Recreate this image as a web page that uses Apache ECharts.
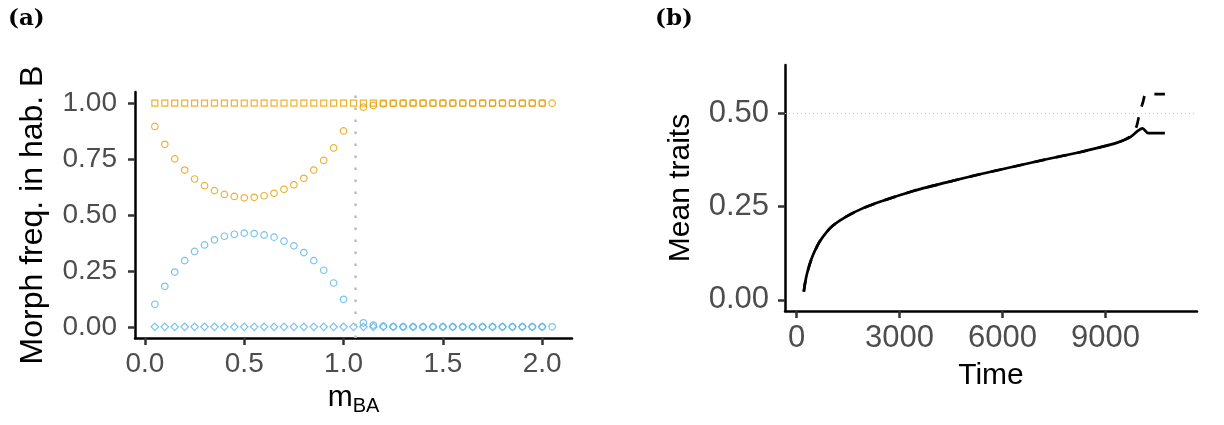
<!DOCTYPE html>
<html>
<head>
<meta charset="utf-8">
<script src="https://cdn.jsdelivr.net/npm/echarts@6/dist/echarts.min.js"></script>
<style>
  html, body { margin: 0; padding: 0; background: #fff; }
  #chart { width: 1224px; height: 425px; }
</style>
</head>
<body>
<div id="chart"></div>
<script>
const FONT = '"Liberation Sans", Arial, Helvetica, sans-serif'

// panel (a): morph frequencies against m_BA
const mBA = [0.05, 0.10, 0.15, 0.20, 0.25, 0.30, 0.35, 0.40, 0.45, 0.50,
  0.55, 0.60, 0.65, 0.70, 0.75, 0.80, 0.85, 0.90, 0.95, 1.00,
  1.05, 1.10, 1.15, 1.20, 1.25, 1.30, 1.35, 1.40, 1.45, 1.50,
  1.55, 1.60, 1.65, 1.70, 1.75, 1.80, 1.85, 1.90, 1.95, 2.00, 2.05]
const orangeSquare = [1, 1, 1, 1, 1, 1, 1, 1, 1, 1, 1, 1, 1, 1, 1, 1, 1, 1, 1, 1,
  1, 1, 1, 1, 1, 1, 1, 1, 1, 1, 1, 1, 1, 1, 1, 1, 1, 1, 1, 1, null]
const orangeCircle = [0.896, 0.816, 0.751, 0.701, 0.661, 0.631, 0.609, 0.592, 0.583, 0.577,
  0.579, 0.586, 0.597, 0.615, 0.635, 0.664, 0.701, 0.744, 0.800, 0.876,
  null, 0.982, 0.990, 0.997, 0.999, 1, 1, 1, 1, 1,
  1, 1, 1, 1, 1, 1, 1, 1, 1, 1, 1]
const blueCircle = [0.101, 0.181, 0.245, 0.296, 0.337, 0.366, 0.389, 0.405, 0.414, 0.419,
  0.417, 0.411, 0.401, 0.383, 0.362, 0.332, 0.296, 0.253, 0.196, 0.123,
  null, 0.018, 0.008, 0.003, 0.001, 0, 0, 0, 0, 0,
  0, 0, 0, 0, 0, 0, 0, 0, 0, 0, 0]
const blueDiamond = [0, 0, 0, 0, 0, 0, 0, 0, 0, 0, 0, 0, 0, 0, 0, 0, 0, 0, 0, 0,
  0, 0, 0, 0, 0, 0, 0, 0, 0, 0, 0, 0, 0, 0, 0, 0, 0, 0, 0, 0, null]
const mCrit = 1.06
const xTicksA = [0, 0.5, 1, 1.5, 2]
const yTicksA = [0, 0.25, 0.5, 0.75, 1]

// panel (b): mean traits over time
const timeSolid = [213, 250, 300, 390, 480, 580, 680, 870, 1070, 1460, 1940, 2430, 3400, 4370,
  5340, 6310, 7280, 8250, 8830, 9320, 9710, 9950, 10080, 10240, 10730]
const traitSolid = [0.022, 0.045, 0.068, 0.097, 0.120, 0.140, 0.157, 0.181, 0.200, 0.224, 0.246, 0.263, 0.292, 0.315,
  0.337, 0.357, 0.377, 0.396, 0.409, 0.421, 0.436, 0.454, 0.460, 0.447, 0.447]
const timeDashed = [213, 250, 300, 390, 480, 580, 680, 870, 1070, 1460, 1940, 2430, 3400, 4370,
  5340, 6310, 7280, 8250, 8830, 9320, 9710, 9900, 9990, 10090, 10180, 10730]
const traitDashed = [0.022, 0.045, 0.068, 0.097, 0.120, 0.140, 0.157, 0.181, 0.200, 0.224, 0.246, 0.263, 0.292, 0.315,
  0.337, 0.357, 0.377, 0.396, 0.409, 0.421, 0.438, 0.464, 0.500, 0.530, 0.552, 0.552]
const refLevel = 0.5
const xTicksB = [0, 3000, 6000, 9000]
const yTicksB = [0, 0.25, 0.5]

const ORANGE = '#E69F00'
const BLUE = '#56B4E9'

function pairs(xs, ys) {
  return xs.map((x, i) => [x, ys[i]]).filter(p => p[1] !== null)
}

function axisBase(ticks, fmt, fontSize, margin) {
  return {
    type: 'value',
    splitLine: { show: false },
    axisLine: { onZero: false, lineStyle: { color: '#000', width: 2.5 } },
    axisTick: { customValues: ticks, length: 7, lineStyle: { color: '#333', width: 2.5 } },
    axisLabel: { customValues: ticks, formatter: fmt, color: '#4d4d4d', fontSize: fontSize, margin: margin, fontFamily: FONT }
  }
}

function points(name, ys, symbol, size, color) {
  return {
    name: name,
    type: 'scatter',
    xAxisIndex: 0,
    yAxisIndex: 0,
    symbol: symbol,
    symbolSize: size,
    silent: true,
    itemStyle: { color: 'rgba(0,0,0,0)', borderColor: color, borderWidth: 1.2 },
    data: pairs(mBA, ys)
  }
}

function traitLine(name, xs, ys, dash) {
  return {
    name: name,
    type: 'line',
    xAxisIndex: 1,
    yAxisIndex: 1,
    showSymbol: false,
    silent: true,
    smooth: 0.25,
    lineStyle: { color: '#000', width: 2.7, type: dash },
    data: pairs(xs, ys)
  }
}

const chart = echarts.init(document.getElementById('chart'))
chart.setOption({
  animation: false,
  textStyle: { fontFamily: FONT },
  graphic: [
    { type: 'text', left: 8, top: 8, style: { text: '(a)', font: 'bold 23px "DejaVu Serif"', fill: '#000' } },
    { type: 'text', left: 655, top: 8, style: { text: '(b)', font: 'bold 23px "DejaVu Serif"', fill: '#000' } }
  ],
  grid: [
    { left: 135, top: 92, width: 437, height: 246 },
    { left: 785, top: 65, width: 412, height: 246 }
  ],
  xAxis: [
    Object.assign(axisBase(xTicksA, v => v.toFixed(1), 28, 12), {
      gridIndex: 0, min: -0.05, max: 2.15,
      name: '{m|m}{s|BA}', nameLocation: 'middle', nameGap: 38,
      nameTextStyle: {
        rich: {
          m: { fontSize: 30, color: '#000', fontFamily: FONT, verticalAlign: 'top', lineHeight: 34 },
          s: { fontSize: 20, color: '#000', fontFamily: FONT, verticalAlign: 'top', lineHeight: 34, padding: [14, 0, 0, 0] }
        }
      }
    }),
    Object.assign(axisBase(xTicksB, v => String(v), 31, 12), {
      gridIndex: 1, min: -335, max: 11665,
      name: 'Time', nameLocation: 'middle', nameGap: 50,
      nameTextStyle: { fontSize: 30, color: '#000', fontFamily: FONT }
    })
  ],
  yAxis: [
    Object.assign(axisBase(yTicksA, v => v.toFixed(2), 28, 18), {
      gridIndex: 0, min: -0.05, max: 1.05,
      name: 'Morph freq. in hab. B', nameLocation: 'middle', nameGap: 86,
      nameTextStyle: { fontSize: 32, color: '#000', fontFamily: FONT }
    }),
    Object.assign(axisBase(yTicksB, v => v.toFixed(2), 31, 16), {
      gridIndex: 1, min: -0.03, max: 0.63,
      name: 'Mean traits', nameLocation: 'middle', nameGap: 89,
      nameTextStyle: { fontSize: 30, color: '#000', fontFamily: FONT }
    })
  ],
  series: [
    Object.assign(points('orange morph, fixed', orangeSquare, 'rect', 6, ORANGE), {
      markLine: {
        silent: true, symbol: 'none', label: { show: false },
        lineStyle: { color: '#bdbdbd', width: 2.5, type: [2.5, 9.5] },
        data: [{ xAxis: mCrit }]
      }
    }),
    points('orange morph', orangeCircle, 'circle', 6.5, ORANGE),
    points('blue morph', blueCircle, 'circle', 6.5, BLUE),
    points('blue morph, lost', blueDiamond, 'diamond', 7.5, BLUE),
    traitLine('trait dashed', timeDashed, traitDashed, [11, 11]),
    Object.assign(traitLine('trait solid', timeSolid, traitSolid, 'solid'), {
      markLine: {
        silent: true, symbol: 'none', label: { show: false },
        lineStyle: { color: '#c8c8c8', width: 1, type: [1, 3] },
        data: [{ yAxis: refLevel }]
      }
    })
  ]
})
</script>
</body>
</html>
